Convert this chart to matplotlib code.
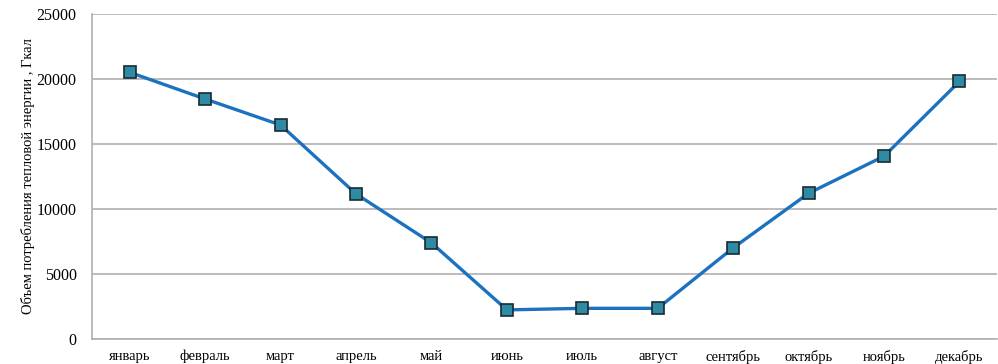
import numpy as np
import matplotlib
matplotlib.use("Agg")
import matplotlib.pyplot as plt

# monthly heat consumption, Gcal
months = ["январь", "февраль", "март", "апрель", "май", "июнь",
          "июль", "август", "сентябрь", "октябрь", "ноябрь", "декабрь"]
consumption = [20500, 18450, 16450, 11150, 7380, 2230,
               2350, 2350, 7000, 11200, 14050, 19800]
y_ticks = [0, 5000, 10000, 15000, 20000, 25000]

plt.rcParams['font.family'] = ['Liberation Serif', 'DejaVu Serif']

fig = plt.figure(figsize=(9.98, 3.64), dpi=100)
ax = fig.add_axes([0.0922, 0.069, 0.907, 0.893])

x = np.arange(len(months))
ax.plot(x, consumption, color='#1c72c0', lw=2.4, zorder=3,
        marker='s', markersize=8.5, markerfacecolor='#2f8aa6',
        markeredgecolor='#1a2a30', markeredgewidth=1.2)

ax.set_xlim(-0.5, len(months) - 0.5)
ax.set_ylim(0, 25000)
ax.set_yticks(y_ticks)
ax.set_xticks(x)
ax.set_xticklabels(months, fontsize=10.5)
ax.tick_params(axis='y', labelsize=11.5, length=0, pad=11)
ax.tick_params(axis='x', length=0, pad=8)
ax.yaxis.grid(True, color='#b0b0b0', lw=1.2)
ax.set_axisbelow(True)
for s in ['top', 'right']:
    ax.spines[s].set_visible(False)
ax.spines['left'].set_color('#b0b0b0')
ax.spines['bottom'].set_color('#b0b0b0')
ax.spines['left'].set_linewidth(1.2)
ax.spines['bottom'].set_linewidth(1.2)

ax.set_ylabel("Объем потребления тепловой энергии , Гкал", fontsize=10.5, labelpad=1)

fig.savefig("out.png", dpi=100)
